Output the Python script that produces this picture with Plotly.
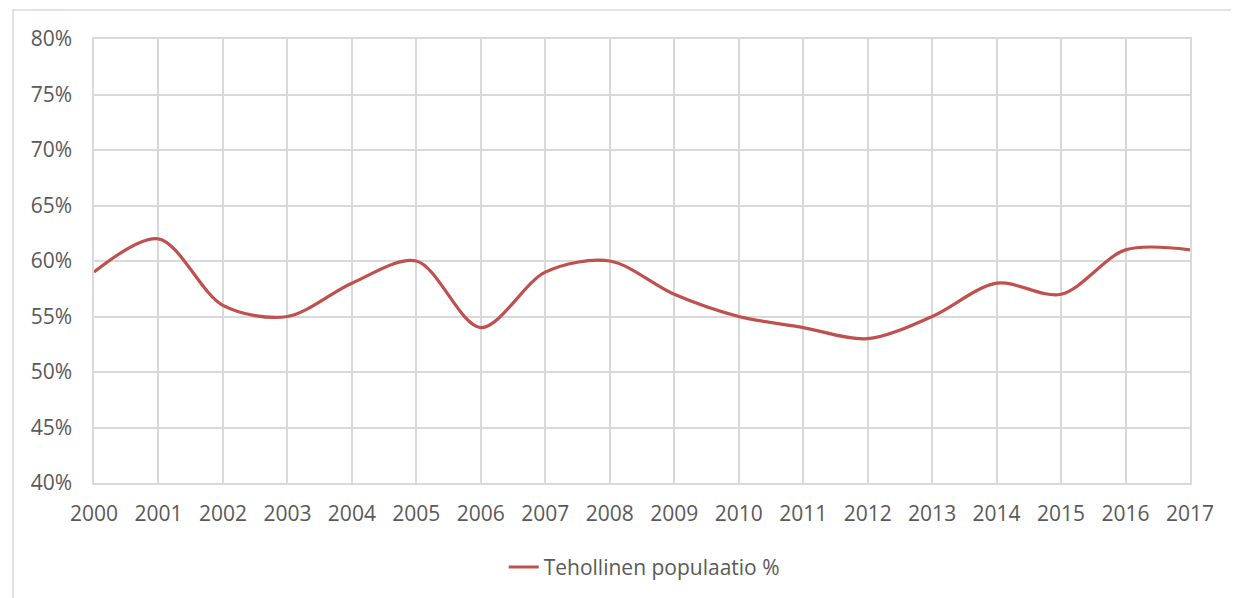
import plotly.graph_objects as go

years = [str(y) for y in range(2000, 2018)]
values = [0.59, 0.62, 0.56, 0.55, 0.58, 0.60, 0.54, 0.59, 0.60, 0.57,
          0.55, 0.54, 0.53, 0.55, 0.58, 0.57, 0.61, 0.61]
series_name = "Tehollinen populaatio %"
y_ticks = [0.40, 0.45, 0.50, 0.55, 0.60, 0.65, 0.70, 0.75, 0.80]

W, H = 1239, 598
OFF = 8  # page body margin
L, R, T, B = 94 - OFF, 1190 - OFF, 39 - OFF, 483 - OFF

fig = go.Figure()
fig.add_trace(go.Scatter(
    x=list(range(len(years))), y=values, mode="lines", name=series_name,
    line=dict(color="#C0504D", width=3.2, shape="spline", smoothing=0.9),
))

FONT = "'Open Sans', sans-serif"
axis_font = dict(family=FONT, size=21, color="#595959")
fig.update_layout(
    width=W, height=H,
    margin=dict(l=L, r=W - R, t=T, b=H - B, autoexpand=False),
    paper_bgcolor="white", plot_bgcolor="white",
    showlegend=True,
    legend=dict(orientation="h", x=0.502, xanchor="center", y=-0.19, yanchor="middle",
                font=dict(family=FONT, size=21, color="#595959")),
    xaxis=dict(range=[0, len(years) - 1], tickvals=list(range(len(years))), ticktext=years,
               showgrid=True, gridcolor="#D9D9D9", gridwidth=1.5,
               showline=True, linecolor="#D9D9D9", linewidth=1.5, mirror=True,
               zeroline=False, tickfont=axis_font, ticks="outside", ticklen=11,
               tickcolor="rgba(0,0,0,0)", fixedrange=True),
    yaxis=dict(range=[0.40, 0.80], tickvals=y_ticks, tickformat=".0%",
               showgrid=True, gridcolor="#D9D9D9", gridwidth=1.5,
               showline=True, linecolor="#D9D9D9", linewidth=1.5, mirror=True,
               zeroline=False, tickfont=axis_font, ticks="outside", ticklen=16,
               tickcolor="rgba(0,0,0,0)", fixedrange=True),
)

# chart-area border (extends off the right and bottom of the view)
pw, ph = R - L, B - T
fig.add_shape(type="rect", xref="paper", yref="paper",
              x0=(13 - OFF - L) / pw, x1=(1260 - L) / pw,
              y0=(B - 620) / ph, y1=(B - (10 - OFF)) / ph,
              line=dict(color="#D9D9D9", width=1.5), layer="below")

fig.write_html("out.html")
